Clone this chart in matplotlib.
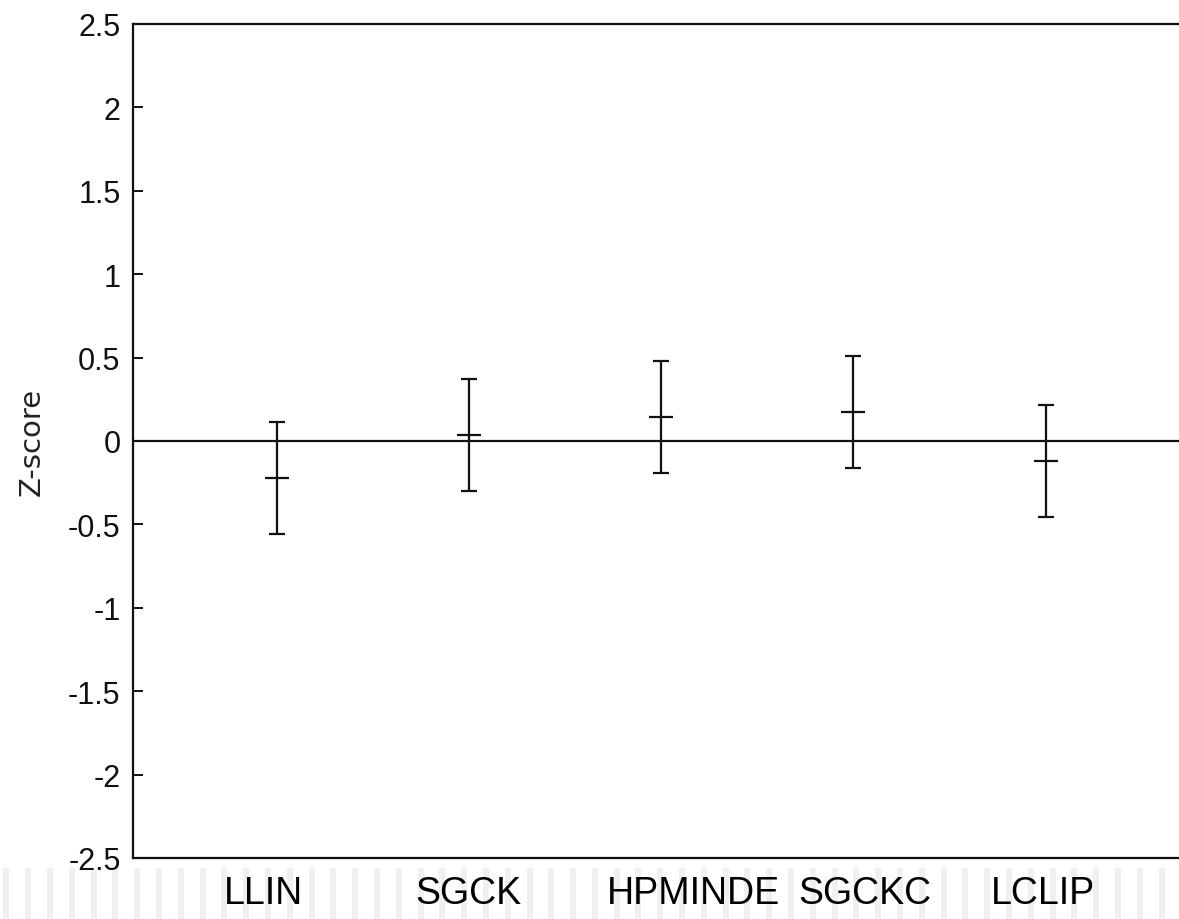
import matplotlib
matplotlib.use("Agg")
from matplotlib import pyplot as plt
from matplotlib.patches import Rectangle

# data
methods = ["LLIN", "SGCK", "HPMINDE", "SGCKC", "LCLIP"]
zmean = [-0.223, 0.038, 0.145, 0.175, -0.119]
zerr = [0.336, 0.336, 0.336, 0.336, 0.336]
yticks = [2.5, 2, 1.5, 1, 0.5, 0, -0.5, -1, -1.5, -2, -2.5]
ytick_labels = ["2.5", "2", "1.5", "1", "0.5", "0", "-0.5", "-1", "-1.5", "-2", "-2.5"]

# label placement (labels are not centred under the bars in the original)
label_shift = [-0.072, -0.002, 0.167, 0.062, -0.015]

W, H = 1179, 920
fig = plt.figure(figsize=(W / 100, H / 100), dpi=100)
ax = fig.add_axes([133 / W, (H - 859) / H, (1189.6 - 133) / W, (859 - 25) / H])

xs = list(range(1, len(methods) + 1))
ax.axhline(0, color="#111111", lw=1.6, zorder=1)
ax.errorbar(xs, zmean, yerr=zerr, fmt="_", color="#111111", ecolor="#111111",
            elinewidth=1.6, capsize=5.5, capthick=1.6, markersize=17,
            markeredgewidth=1.6, zorder=3)

ax.set_xlim(0.25, 5.75)
ax.set_ylim(-2.5, 2.5)
ax.set_yticks(yticks)
ax.set_yticklabels(ytick_labels, family=["Liberation Sans Narrow", "Liberation Sans"],
                   fontsize=22, color="#111111")
ax.tick_params(axis="y", direction="in", length=7.5, width=1.4, pad=9,
               right=True, color="#111111")
ax.set_xticks([x + s for x, s in zip(xs, label_shift)])
ax.set_xticklabels(methods, family="Liberation Sans", fontsize=27, color="black")
ax.tick_params(axis="x", length=0, pad=12)
for sp in ax.spines.values():
    sp.set_linewidth(1.6)
    sp.set_color("#111111")

ax.set_ylabel("Z-score", fontsize=21, family="DejaVu Sans", color="#222222", labelpad=16)

# faint vertical stripes below the axes
x0 = 3.3
while x0 < W:
    fig.patches.append(Rectangle((x0 / W, 0), 6 / W, (H - 869) / H,
                                 transform=fig.transFigure, facecolor="#f0f0f0",
                                 edgecolor="none", zorder=-1))
    x0 += 21.8

fig.savefig("out.png", dpi=100)
